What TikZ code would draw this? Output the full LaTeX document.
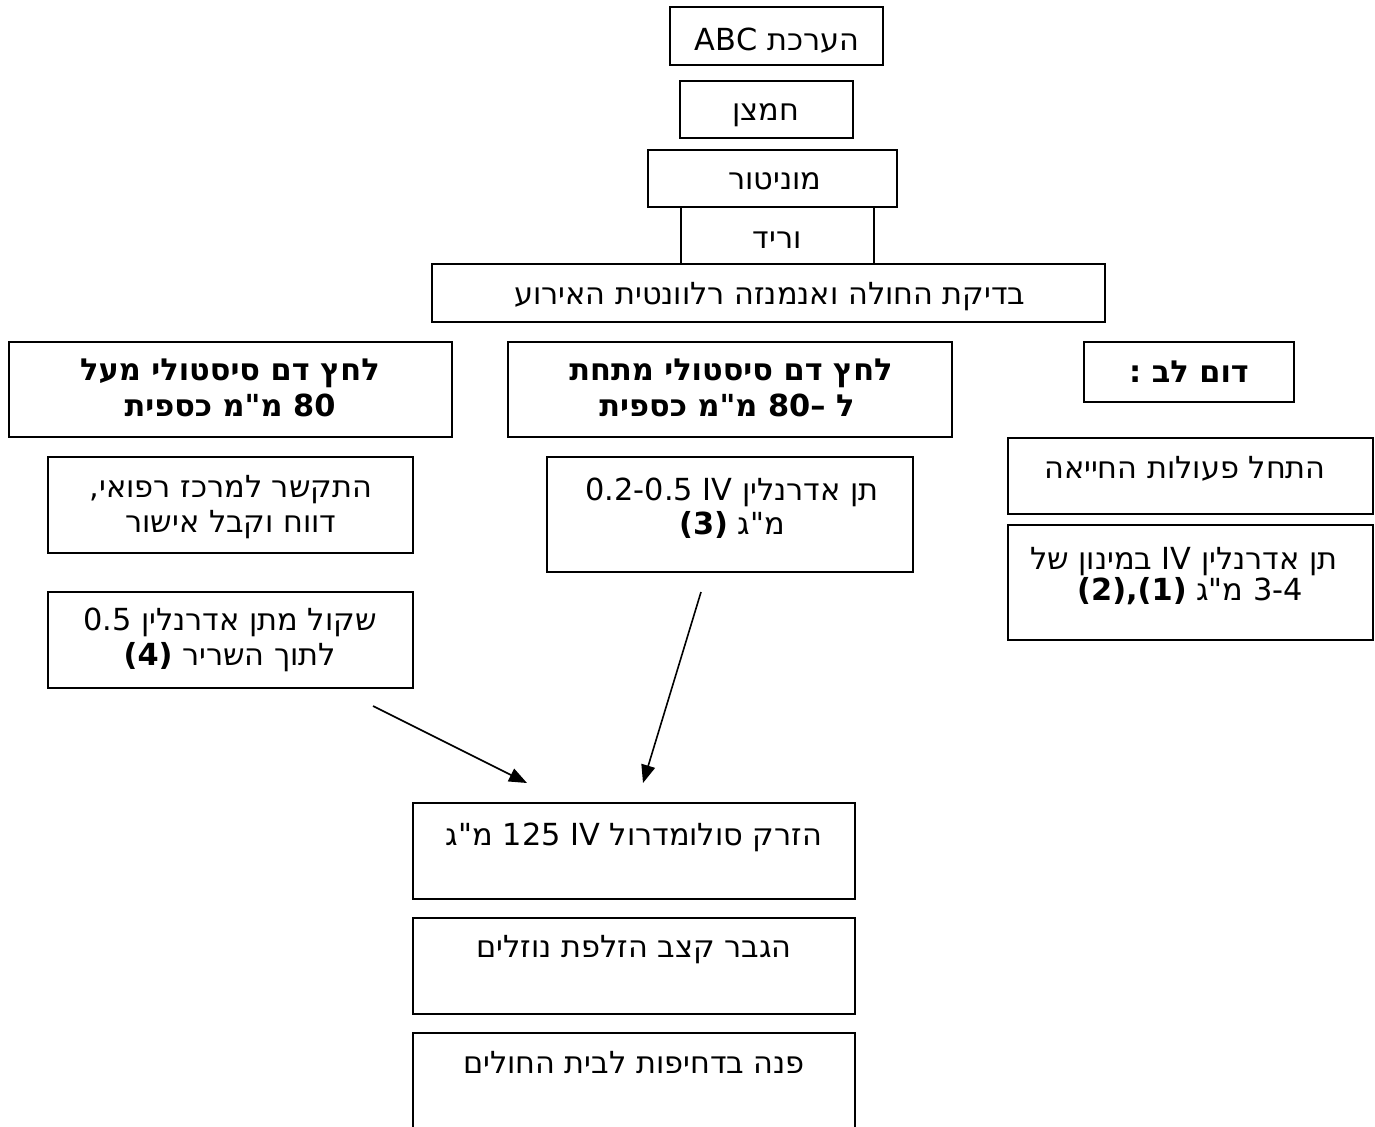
\documentclass[tikz,border=0pt]{standalone}
\usepackage{fontspec}
\setmainfont{DejaVu Sans}[Script=Hebrew, Ligatures=TeXOff]
\TeXXeTstate=1
\usetikzlibrary{fit,arrows.meta}
\newcommand{\rl}[1]{\beginR #1\endR}
\begin{document}
\begin{tikzpicture}[x=0.5pt,y=-0.5pt,
  box/.style={draw, line width=1pt, inner sep=0pt, rectangle},
  ln/.style={inner sep=0pt, anchor=base, font=\fontsize{15.2pt}{17.5pt}\selectfont},
  lnb/.style={ln, font=\fontsize{15.2pt}{17.5pt}\selectfont\bfseries},
  arr/.style={line width=0.8pt, -{Triangle[length=9pt,width=7pt]}}]
\useasboundingbox (0,0) rectangle (1375,1126);
\clip (0,0) rectangle (1375,1126);

% opening checklist
\node[box, fit={(670,7) (883,65)}] (abc) {};
\node[ln] (abct) at (777,50) {\rl{הערכת ABC}};
\node[box, fit={(680,81) (853,138)}] (oxy) {};
\node[ln] (oxyt) at (766,120) {\rl{חמצן}};
\node[box, fit={(648,150) (897,207)}] (mon) {};
\node[ln] (mont) at (775,189) {\rl{מוניטור}};
\node[box, fill=white, fit={(681,207) (874,264)}] (iv) {};
\node[ln] (ivt) at (777,248) {\rl{וריד}};
\node[box, fit={(432,264) (1105,322)}] (exam) {};
\node[ln] (examt) at (770,304) {\rl{בדיקת החולה ואנמנזה רלוונטית האירוע}};

% branch: systolic pressure above 80
\node[box, fit={(9,342) (452,437)}] (hi) {};
\node[lnb] (hit1) at (230,380) {\rl{לחץ דם סיסטולי מעל}};
\node[lnb] (hit2) at (230,416) {\rl{80 מ"מ כספית}};
\node[box, fit={(48,457) (413,553)}] (call) {};
\node[ln] (callt1) at (231,497) {\rl{התקשר למרכז רפואי,}};
\node[ln] (callt2) at (231,532) {\rl{דווח וקבל אישור}};
\node[box, fit={(48,592) (413,688)}] (im) {};
\node[ln] (imt1) at (230,630) {\rl{שקול מתן אדרנלין 0.5}};
\node[ln] (imt2) at (230,665) {\rl{לתוך השריר \textbf{(4)}}};

% branch: systolic pressure below 80
\node[box, fit={(508,342) (952,437)}] (lo) {};
\node[lnb] (lot1) at (731,380) {\rl{לחץ דם סיסטולי מתחת}};
\node[lnb] (lot2) at (727,416) {\rl{ל –80 מ"מ כספית}};
\node[box, fit={(547,457) (913,572)}] (adr) {};
\node[ln] (adrt1) at (732,500) {\rl{תן אדרנלין IV 0.2-0.5}};
\node[ln] (adrt2) at (732,534) {\rl{מ"ג \textbf{(3)}}};

% branch: cardiac arrest
\node[box, fit={(1084,342) (1294,402)}] (ca) {};
\node[lnb] (cat) at (1189,382) {\rl{דום לב :}};
\node[box, fit={(1008,438) (1373,514)}] (cpr) {};
\node[ln] (cprt) at (1185,478) {\rl{התחל פעולות החייאה}};
\node[box, fit={(1008,525) (1373,640)}] (adr2) {};
\node[ln] (adr2t1) at (1184,569) {\rl{תן אדרנלין IV במינון של}};
\node[ln] (adr2t2) at (1190,600) {\rl{3-4 מ"ג \textbf{(1),(2)}}};

% common continuation
\node[box, fit={(413,803) (855,899)}] (sol) {};
\node[ln] (solt) at (634,845) {\rl{הזרק סולומדרול IV 125 מ"ג}};
\node[box, fit={(413,918) (855,1014)}] (flu) {};
\node[ln] (flut) at (634,957) {\rl{הגבר קצב הזלפת נוזלים}};
\node[box, fit={(413,1033) (855,1140)}] (hosp) {};
\node[ln] (hospt) at (634,1073) {\rl{פנה בדחיפות לבית החולים}};

% arrows towards the common steps
\coordinate (a1s) at (373,706);
\coordinate (a1e) at (527,783);
\coordinate (a2s) at (701,592);
\coordinate (a2e) at (643,783);
\draw[arr] (a1s) -- (a1e);
\draw[arr] (a2s) -- (a2e);
\end{tikzpicture}
\end{document}
